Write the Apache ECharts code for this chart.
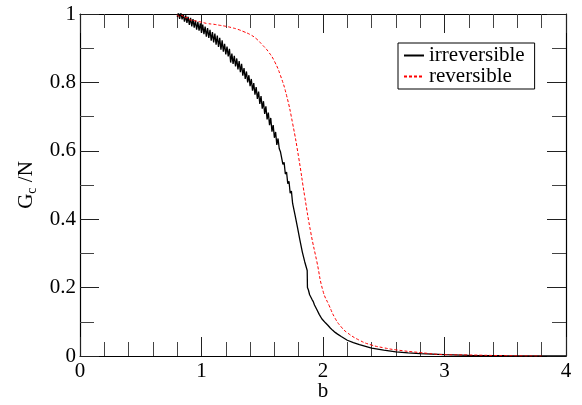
<!DOCTYPE html>
<html>
<head>
<meta charset="utf-8">
<script src="https://cdn.jsdelivr.net/npm/echarts@6/dist/echarts.min.js"></script>
<style>html,body{margin:0;padding:0;background:#fff;}#c{width:582px;height:405px;}</style>
</head>
<body>
<div id="c"></div>
<script>
var xTicks = [0, 1, 2, 3, 4];
var yTicks = [0, 0.2, 0.4, 0.6, 0.8, 1];

var irrevB = [0.80,0.81,0.82,0.83,0.84,0.85,0.86,0.87,0.88,0.89,0.90,0.91,0.92,0.93,0.94,0.95,0.96,0.97,0.98,0.99,
1.00,1.01,1.02,1.03,1.04,1.05,1.06,1.07,1.08,1.09,1.10,1.11,1.12,1.13,1.14,1.15,1.16,1.17,1.18,1.19,
1.20,1.21,1.22,1.23,1.24,1.25,1.26,1.27,1.28,1.29,1.30,1.31,1.32,1.33,1.34,1.35,1.36,1.37,1.38,1.39,
1.40,1.41,1.42,1.43,1.44,1.45,1.46,1.47,1.48,1.49,1.50,1.51,1.52,1.53,1.54,1.55,1.56,1.57,1.58,1.59,
1.60,1.61,1.62,1.63,1.64,1.65,1.66,1.67,1.68,1.69,1.70,1.71,1.72,1.73,1.74,1.75,1.76,1.77,1.78,1.79,
1.80,1.81,1.82,1.83,1.84,1.85,1.86,1.87,1.872,1.88,1.89,1.90,1.91,1.92,1.93,1.94,1.95,1.96,1.97,1.98,1.99,
2.00,2.02,2.04,2.06,2.08,2.10,2.12,2.15,2.20,2.25,2.30,2.35,2.40,2.50,2.60,2.70,2.80,3.00,3.20,3.50,4.00];
var irrevG = [0.992,1.004,0.986,1.006,0.984,0.999,0.978,0.996,0.974,0.992,0.968,0.989,0.964,0.985,0.960,0.981,0.954,0.977,0.951,0.973,
0.945,0.969,0.941,0.963,0.934,0.959,0.930,0.954,0.922,0.947,0.917,0.943,0.910,0.937,0.904,0.930,0.896,0.923,0.890,0.913,
0.882,0.905,0.876,0.898,0.858,0.884,0.854,0.878,0.847,0.870,0.838,0.862,0.830,0.854,0.820,0.842,0.810,0.832,0.800,0.821,
0.789,0.810,0.776,0.798,0.764,0.786,0.752,0.773,0.737,0.760,0.723,0.745,0.708,0.730,0.692,0.712,0.675,0.696,0.656,0.675,
0.638,0.655,0.617,0.636,0.606,0.597,0.594,0.560,0.566,0.532,0.538,0.504,0.511,0.476,0.482,0.446,0.450,0.412,0.414,0.376,
0.378,0.339,0.342,0.304,0.308,0.275,0.277,0.250,0.200,0.193,0.179,0.175,0.165,0.159,0.149,0.145,0.135,0.131,0.121,0.118,0.109,
0.104,0.097,0.090,0.082,0.075,0.069,0.064,0.057,0.046,0.039,0.033,0.028,0.023,0.017,0.012,0.009,0.007,0.004,0.002,0.001,0.000];

var revB = [0.80,0.82,0.84,0.86,0.88,0.90,0.95,1.00,1.05,1.10,1.15,1.20,1.25,1.30,1.35,1.40,1.45,1.50,1.55,1.60,1.65,1.70,1.75,1.80,1.85,1.90,1.95,2.00,2.05,2.10,2.15,2.20,2.30,2.40,2.50,2.60,2.80,3.00,3.20,3.50,3.80];
var revG = [0.998,0.992,0.996,0.988,0.990,0.984,0.980,0.976,0.972,0.970,0.967,0.964,0.960,0.955,0.948,0.940,0.928,0.910,0.890,0.862,0.820,0.762,0.680,0.580,0.465,0.360,0.275,0.190,0.148,0.110,0.085,0.068,0.046,0.032,0.024,0.018,0.010,0.004,0.003,0.001,0.000];

function pairs(xs, ys){ var out=[]; for (var i=0;i<xs.length;i++) out.push([xs[i], ys[i]]); return out; }

var font = '"Liberation Serif", "Times New Roman", Times, "DejaVu Serif", serif';
var chart = echarts.init(document.getElementById('c'), null, {renderer:'canvas'});

function xAx(pos, labels){
  return {
    type:'value', min:xTicks[0], max:xTicks[xTicks.length-1], interval:1, position:pos,
    name: labels ? 'b' : '', nameLocation:'middle', nameGap:25, nameMoveOverlap:false,
    nameTextStyle:{fontFamily:font, fontSize:21, color:'#000'},
    axisLine:{show:true, onZero:false, lineStyle:{color:'#000', width:1.2}},
    axisTick:{show:true, inside:true, length:19, lineStyle:{color:'#222', width:1}},
    minorTick:{show:true, splitNumber:5, length:14, lineStyle:{color:'#444', width:1}},
    axisLabel:{show:labels, fontFamily:font, fontSize:21, color:'#000', margin:5},
    splitLine:{show:false}, minorSplitLine:{show:false}
  };
}
function yAx(pos, labels){
  return {
    type:'value', min:yTicks[0], max:yTicks[yTicks.length-1], interval:0.2, position:pos,
    name: labels ? 'G{sub|c} /N' : '', nameLocation:'middle', nameGap:41, nameMoveOverlap:false,
    nameTextStyle:{fontFamily:font, fontSize:21, color:'#000', rich:{sub:{fontFamily:font, fontSize:14, color:'#000', padding:[12,0,0,0]}}},
    axisLine:{show:true, onZero:false, lineStyle:{color:'#000', width:1.2}},
    axisTick:{show:true, inside:true, length:19, lineStyle:{color:'#222', width:1}},
    minorTick:{show:true, splitNumber:2, length:14, lineStyle:{color:'#444', width:1}},
    axisLabel:{show:labels, fontFamily:font, fontSize:21, color:'#000', margin:4,
      formatter:function(v){ return String(Math.round(v*10)/10); }},
    splitLine:{show:false}, minorSplitLine:{show:false}
  };
}

chart.setOption({
  animation:false,
  backgroundColor:'#fff',
  textStyle:{fontFamily:font},
  grid:{left:80, right:16, top:14, bottom:49, containLabel:false, outerBoundsMode:'none'},
  legend:{
    left:398, top:43, orient:'vertical', itemWidth:20, itemHeight:10, itemGap:0,
    padding:[2,10,2,5], borderColor:'#000', borderWidth:1, backgroundColor:'#fff',
    itemStyle:{opacity:0},
    textStyle:{fontFamily:font, fontSize:21, color:'#000', lineHeight:20, padding:[0,0,0,0]},
    data:['irreversible','reversible']
  },
  xAxis:[xAx('bottom', true), xAx('top', false)],
  yAxis:[yAx('left', true), yAx('right', false)],
  series:[
    {name:'irreversible', type:'line', xAxisIndex:0, yAxisIndex:0, data:pairs(irrevB, irrevG),
     showSymbol:false, symbol:'none', smooth:false, lineStyle:{color:'#000', width:1.3}, itemStyle:{color:'#000'}, z:3},
    {name:'reversible', type:'line', xAxisIndex:0, yAxisIndex:0, data:pairs(revB, revG),
     showSymbol:false, symbol:'none', smooth:true, lineStyle:{color:'#ff0000', width:1, type:[3,2]}, itemStyle:{color:'#ff0000'}, z:4}
  ]
});
</script>
</body>
</html>
